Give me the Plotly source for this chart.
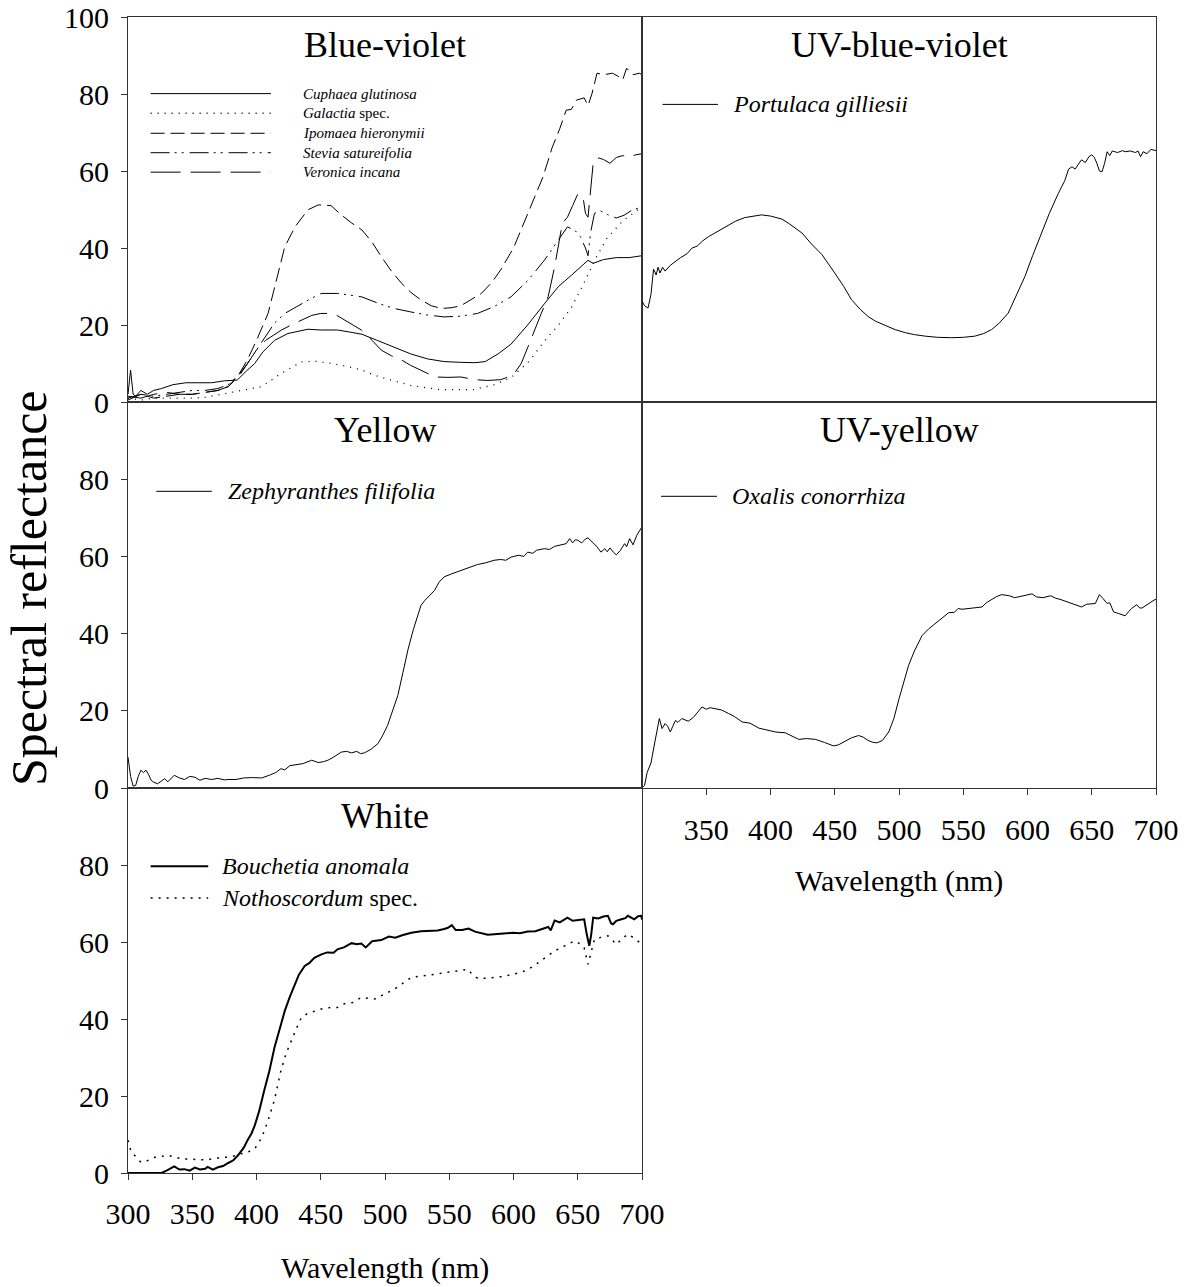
import plotly.graph_objects as go
from plotly.subplots import make_subplots

# ---------------- data ----------------
panel_titles = ["Blue-violet", "UV-blue-violet", "Yellow", "UV-yellow", "White"]

# Blue-violet
cuphaea_wl = [300, 302, 304, 306, 310, 315, 320, 326, 335, 345, 355, 365, 375, 385, 392, 398.6, 405, 414, 424.5, 432, 440, 450, 463, 472, 482, 494, 507, 520, 533, 546, 559, 570, 578, 588, 598, 611, 624, 635, 645, 652, 658, 662, 670, 680, 690, 700]
cuphaea_val = [2, 8.3, 2, 1.5, 3, 2, 3, 3.5, 4.5, 5, 5, 5, 5.5, 5.7, 8, 10, 13, 16, 17.8, 18.3, 18.9, 18.7, 18.7, 18.2, 17.6, 16, 14.2, 12.5, 11.2, 10.5, 10.3, 10.2, 10.5, 12.5, 15, 20, 25.5, 30, 32.9, 35, 36.8, 36, 37, 37.5, 37.5, 38]

galactia_wl = [300, 310, 320, 330, 340, 350, 360, 370, 378, 390, 404, 419, 435, 445, 455, 470, 482, 495, 507, 520, 543, 569, 585, 598, 612, 624, 635, 645, 655, 663, 673, 685, 695, 700]
galactia_val = [1, 0.5, 1, 1, 1, 1, 1.2, 1.8, 2.3, 3, 4, 7.4, 10.4, 10.6, 10.2, 9.3, 8.3, 6.6, 5.4, 4.3, 3.2, 3.2, 4.5, 6.3, 10.5, 15.8, 20, 24.5, 31, 36.7, 42.7, 47, 49.5, 50.6]

ipomaea_wl = [300, 310, 320, 330, 340, 350, 360, 370, 378, 386, 393, 400, 409, 415, 422, 430, 440, 448, 458, 466, 474, 482, 490, 497, 505, 513, 520, 528, 536, 544, 552, 559, 567, 575, 583, 590, 600, 611, 617, 623, 630, 636, 641, 645, 649, 655, 658, 661, 665, 670, 677, 682, 685, 688, 693, 698, 700]
ipomaea_val = [0.5, 2, 1, 1.5, 2, 2, 2.5, 3, 4, 7, 11, 16, 23, 31, 40.3, 45.5, 49.9, 51.2, 51, 48.6, 46.5, 44.7, 41.5, 37.8, 34, 30.8, 28.5, 26.5, 25, 24.3, 24.5, 25, 26.5, 28.2, 31, 34.3, 40, 49, 54, 58.5, 66, 71, 75.8, 76, 78.4, 79, 77, 80, 85.4, 85, 85.4, 84.5, 83.7, 86.7, 85, 85.4, 85]

stevia_wl = [300, 310, 320, 330, 340, 350, 360, 370, 378, 386, 393, 400, 407, 414, 422, 435, 443, 450.5, 463, 472, 482, 495, 507, 520, 533, 546, 559, 572, 585, 598, 611, 624, 633, 642, 648, 652, 656, 658, 660, 663, 668, 673, 680, 686, 692, 700]
stevia_val = [1, 2, 1.5, 2, 2.5, 3, 3, 3.5, 4.5, 7, 10, 13.5, 17, 20.5, 23, 25.6, 27, 28.2, 28.2, 27.8, 27.3, 25.6, 24.3, 23.4, 22.6, 22.1, 22.3, 23, 24.8, 27.3, 31.5, 36.8, 41, 45.5, 44.5, 43, 40, 38, 44, 49, 49.6, 48.7, 47.8, 48.5, 49.8, 50.7]

veronica_wl = [300, 310, 320, 330, 340, 350, 360, 370, 378, 386, 393, 400, 407, 414, 419.5, 427, 435, 443, 450, 457, 462, 468.6, 475, 481.6, 490, 497, 505, 513, 520, 528, 539, 549, 559, 570, 580, 590, 596, 601, 606, 611, 616, 621.6, 627, 632, 638, 642, 646, 650, 654, 656, 658, 660, 662, 665, 670, 675, 680, 685, 690, 695, 700]
veronica_val = [1.5, 1, 2, 2.5, 2, 2, 2.5, 3, 4, 6.5, 10, 13.5, 16, 17.5, 18.7, 20, 21.3, 22.5, 23, 23, 22.6, 21.3, 20, 18.7, 16, 13.5, 12, 10.9, 9.5, 8.3, 6.5, 6.4, 6.5, 5.8, 5.6, 5.8, 6.5, 7.6, 10, 14.1, 18.5, 23, 27.4, 35.1, 46.4, 48, 51, 54, 53.5, 49, 48, 55, 62, 63.5, 63, 62, 63.5, 64, 63.5, 64.2, 64.5]

# UV-blue-violet
portulaca_wl = [300, 302, 304.7, 307, 309, 311, 312.5, 314, 316, 318, 322, 326, 330, 335, 339, 343, 347, 352, 357, 362, 367, 373, 380, 386, 393, 400, 405, 409, 415, 420, 424.5, 432, 440, 450, 457, 463, 470, 476, 481.6, 490, 497, 505, 512, 520.5, 530, 541, 550, 559, 566, 572, 578, 585, 591, 598, 604, 611, 617, 624, 629, 632, 634.6, 637, 640, 642, 645, 648, 650, 652, 654, 656, 658, 660, 662, 664, 666, 670, 674, 676, 680, 684, 686, 688, 690, 693, 696, 699.5, 700]
portulaca_val = [26.2, 25, 24.4, 28, 34.5, 33, 35, 33.5, 35, 34, 35.5, 36.5, 37.5, 38.5, 40, 40.5, 41.8, 43, 44, 45, 46, 47, 47.9, 48.3, 48.6, 48.3, 47.8, 47.5, 46.2, 45, 43.9, 41, 38.3, 33.5, 30, 26.6, 24, 22.2, 21, 19.8, 18.8, 18, 17.5, 17.1, 16.8, 16.7, 16.8, 17.1, 17.8, 18.8, 20.5, 23.1, 27.5, 32.6, 38, 43.9, 49, 54.2, 57.5, 60.5, 61.1, 60.5, 62, 62.9, 62.2, 63.8, 64.2, 63.5, 62, 60, 59.8, 62, 65, 64, 65.2, 64.8, 65.3, 65, 65.2, 64.8, 65.2, 63.7, 65, 64.5, 65.6, 65.5, 65.3]

# Yellow
zephyranthes_wl = [300, 302, 304, 306, 308, 310, 312, 314, 316, 318, 320, 323, 326, 328.5, 331, 336, 340, 344, 348, 352, 356, 360, 365, 370, 375, 378, 384, 390, 397, 404, 410, 415, 419, 422, 426, 430, 436, 443, 448, 452, 455.6, 460, 466, 470, 474, 478, 481, 484, 489, 494.5, 498, 502, 506, 510, 514, 518, 522, 525.7, 528, 531, 535, 538.6, 542, 546, 552, 559, 565, 572, 578, 585, 590, 594, 598, 604, 608, 611, 615, 618, 624, 628, 632, 637, 641, 643.7, 646, 648, 650, 653, 656, 658, 662, 665, 668, 671, 673, 675, 678, 680, 683, 686.5, 688, 690.4, 693, 696, 699.5, 700]
zephyranthes_val = [8, 3, 0.5, 0.7, 3, 4.6, 4, 4.6, 3.5, 2, 1.5, 1.1, 1.8, 2.4, 1.6, 3.3, 2.6, 2.2, 3, 2.8, 2, 2.5, 2.2, 2.5, 2.1, 2.2, 2.2, 2.6, 2.7, 2.6, 3.3, 4, 5, 4.7, 5.8, 6, 6.3, 7.2, 6.6, 6.8, 7.2, 8, 9.3, 9.5, 9.1, 9.5, 8.9, 9.1, 10, 11.5, 13.5, 16.2, 20, 24, 30, 36, 41, 44.7, 47.3, 48.6, 50, 51.2, 53.3, 54.7, 55.5, 56.4, 57.2, 57.9, 58.3, 59, 59.2, 59, 59.8, 60.3, 60, 61.1, 60.8, 61.6, 62, 61.8, 62.6, 62.9, 63.3, 64.6, 63.5, 64.3, 64.2, 63.5, 64.5, 64.8, 63.5, 62.5, 61.1, 62, 61.2, 62.2, 61, 60.4, 61.5, 63.3, 62.5, 64.6, 63, 65.5, 67.4, 67.5]

# UV-yellow
oxalis_wl = [300, 302, 304, 305, 307, 310, 312, 313.5, 315.6, 318, 320, 322, 324, 326, 328, 331, 336, 340, 346.7, 350, 353, 357, 362, 367.4, 372, 378, 384, 391, 397, 404, 411.5, 416, 422, 428, 435, 442, 449, 453, 458, 463, 468.6, 472, 476, 480, 483, 487, 492, 496, 500, 504, 507.5, 512, 518, 523, 528, 533, 538.6, 543, 546, 549, 555, 564.6, 568, 572, 576, 580, 586, 590, 593, 598, 603.5, 607, 612, 618, 621.7, 626, 632, 637, 642, 646, 652.8, 656, 659, 662, 664, 667, 671, 676, 679, 681, 685, 687, 689, 692, 696, 699.5, 700]
oxalis_val = [0, 0.7, 4, 5, 6.5, 11.9, 15, 18, 15.4, 16.7, 16, 14.5, 16, 17.5, 17, 18, 17.3, 18.3, 21, 20.4, 20.8, 20.6, 20.2, 19.3, 18.5, 17.1, 16.8, 15.5, 15, 14.5, 14.3, 13.5, 12.6, 12.8, 12.6, 11.8, 10.9, 11.2, 12.1, 13, 13.6, 13.2, 12.3, 11.8, 11.7, 12.3, 14.5, 18, 23.1, 28, 31.8, 35.5, 39.5, 41.2, 42.6, 44, 45.4, 45.5, 46.5, 46.3, 46.6, 46.9, 48, 48.9, 49.6, 50.1, 49.8, 49.3, 49.5, 49.8, 50.3, 49.5, 49.3, 49.8, 49.2, 48.8, 48.2, 47.5, 46.9, 47.6, 47.8, 50.1, 49, 47.8, 48, 45.6, 45.2, 44.6, 45.8, 46.5, 47.5, 46.7, 46.6, 47.3, 48, 48.9, 48.6]

# White
bouchetia_wl = [300, 310, 320, 326, 330, 333, 336, 340, 344, 348, 352, 356, 360, 362, 366, 370, 374, 378, 382, 385.6, 390, 393, 396, 398.6, 402, 406, 410, 414, 418, 422, 426, 429.7, 433, 437.5, 441, 445, 450.5, 455, 460, 463, 468, 474, 478, 481.6, 485, 490, 497, 503, 508, 514, 520.5, 528, 535, 541, 546, 549, 552, 555, 560, 565, 570, 575, 580, 585, 590, 595, 600, 605, 611, 617, 622, 627, 629, 632, 636, 639, 642, 646, 650, 655, 657, 659, 660.5, 662, 666, 670, 673.5, 676, 677.4, 680, 684, 687, 689, 692, 694, 697, 699.5, 700]
bouchetia_val = [0, 0, 0, 0, 0.6, 1.2, 1.7, 0.9, 1, 0.6, 1.4, 0.9, 1.1, 1.6, 0.9, 1.5, 1.8, 2.6, 3.3, 4.6, 6.5, 8.5, 10.2, 12.3, 16, 21.4, 26.5, 32.6, 37.6, 42.1, 45.8, 48.6, 51.5, 53.8, 54.5, 55.9, 56.8, 57.3, 57.2, 58.1, 58.6, 59.7, 59.4, 59.6, 58.6, 60.2, 60.5, 61.4, 61.1, 61.8, 62.4, 62.8, 62.9, 63, 63.4, 63.7, 64.4, 63.1, 63.1, 63.5, 62.7, 62.3, 61.9, 62, 62.1, 62.3, 62.4, 62.3, 62.7, 62.8, 63.3, 63.9, 63, 65.6, 65.1, 65.6, 66.3, 65.5, 65.6, 65.9, 62, 59, 62, 66.3, 66.1, 66.6, 66.8, 64.8, 64.6, 65.5, 65.9, 66.2, 66.8, 66.2, 65.9, 66.7, 66.8, 65.8]

nothoscordum_wl = [300, 302, 304, 307, 310, 315, 321, 326, 331, 336, 341.5, 347, 352, 357, 362, 367, 372.6, 380, 388, 393, 398.6, 402, 405, 409, 414, 419, 423, 427, 431, 435, 440, 445, 450.5, 458, 463, 468.6, 475, 481.6, 486, 492, 500, 507.5, 514, 520.5, 530, 538.6, 550, 560, 564.6, 568, 572, 580, 590.5, 600, 608.7, 615, 621.7, 627, 632, 640, 647.6, 652, 655, 658, 660, 663, 668, 673.5, 677, 680, 685, 689, 694, 699.5, 700]
nothoscordum_val = [8.5, 6, 5, 4, 2.8, 3.2, 4.1, 4.3, 4.6, 4.2, 3.7, 3.6, 3.5, 3.5, 3.4, 3.8, 4, 4.2, 5, 5.4, 6.3, 8, 10, 13.6, 19, 26.6, 31, 34.4, 37.5, 40.4, 41.5, 42, 42.6, 43, 43, 44, 44.3, 45.6, 45.5, 45.2, 46.5, 47.8, 49.3, 50.8, 51.2, 51.6, 52.2, 52.7, 52.9, 51.5, 50.6, 50.6, 51, 51.6, 52.5, 53.6, 55.1, 56.5, 57.7, 59, 60.3, 59.5, 58.5, 54.2, 57, 60.7, 61.2, 61.6, 60.5, 59.4, 61, 62, 61, 59.4, 59.4]

x_ticks_left = [300, 350, 400, 450, 500, 550, 600, 650, 700]
x_ticks_right = [350, 400, 450, 500, 550, 600, 650, 700]
y_ticks_top = [0, 20, 40, 60, 80, 100]
y_ticks_lower = [0, 20, 40, 60, 80]

# ---------------- figure ----------------
FONT = "Liberation Serif"
W, H = 1191, 1287

fig = make_subplots(rows=3, cols=2,
                    specs=[[{}, {}], [{}, {}], [{}, None]],
                    horizontal_spacing=0, vertical_spacing=0)

def add(wl, val, name, row, col, dash="solid", width=1.0):
    fig.add_trace(go.Scatter(x=wl, y=val, mode="lines", name=name,
                             line=dict(color="black", width=width, dash=dash),
                             showlegend=False, hoverinfo="x+y+name"),
                  row=row, col=col)

DASH = {
    "solid": "solid",
    "dot": "1px,6px",
    "dash": "14px,6px",
    "dashdotdot": "19px,5px,2px,5px,2px,6px",
    "longdash": "30px,10px",
    "dotw": "2px,6px",
}

add(cuphaea_wl, cuphaea_val, "Cuphaea glutinosa", 1, 1, DASH["solid"], 1.0)
add(galactia_wl, galactia_val, "Galactia spec.", 1, 1, DASH["dot"], 1.3)
add(ipomaea_wl, ipomaea_val, "Ipomaea hieronymii", 1, 1, DASH["dash"], 1.0)
add(stevia_wl, stevia_val, "Stevia satureifolia", 1, 1, DASH["dashdotdot"], 1.0)
add(veronica_wl, veronica_val, "Veronica incana", 1, 1, DASH["longdash"], 1.0)
add(portulaca_wl, portulaca_val, "Portulaca gilliesii", 1, 2, DASH["solid"], 1.0)
add(zephyranthes_wl, zephyranthes_val, "Zephyranthes filifolia", 2, 1, DASH["solid"], 1.0)
add(oxalis_wl, oxalis_val, "Oxalis conorrhiza", 2, 2, DASH["solid"], 1.0)
add(bouchetia_wl, bouchetia_val, "Bouchetia anomala", 3, 1, DASH["solid"], 2.0)
add(nothoscordum_wl, nothoscordum_val, "Nothoscordum spec.", 3, 1, DASH["dotw"], 1.5)

def fx(px):
    return px / W

def fy(py):
    return 1 - py / H

xl = [fx(128), fx(642)]
xr = [fx(642), fx(1156)]
r1 = [fy(402), fy(17)]
r2 = [fy(788), fy(402)]
r3 = [fy(1173), fy(788)]

axis_common = dict(showline=True, linecolor="#333333", linewidth=1.2, mirror=True,
                   showgrid=False, zeroline=False, automargin=False,
                   tickfont=dict(family=FONT, size=30, color="black"),
                   ticks="outside", ticklen=6, tickwidth=1.2, tickcolor="#333333")

noticks = dict(tickvals=[], showticklabels=False, ticks="")
xcfg = {
    1: dict(domain=xl, **noticks),
    2: dict(domain=xr, **noticks),
    3: dict(domain=xl, **noticks),
    4: dict(domain=xr, tickvals=x_ticks_right, ticklabelstandoff=9),
    5: dict(domain=xl, tickvals=x_ticks_left, ticklabelstandoff=8),
}
ycfg = {
    1: dict(domain=r1, tickvals=y_ticks_top, ticklabelstandoff=6),
    2: dict(domain=r1, **noticks),
    3: dict(domain=r2, tickvals=y_ticks_lower, ticklabelstandoff=6),
    4: dict(domain=r2, **noticks),
    5: dict(domain=r3, tickvals=y_ticks_lower, ticklabelstandoff=6),
}
for i in range(1, 6):
    xs = "xaxis" if i == 1 else f"xaxis{i}"
    ys = "yaxis" if i == 1 else f"yaxis{i}"
    xd = dict(axis_common); xd.update(xcfg[i]); xd["range"] = [300, 700]
    yd = dict(axis_common); yd.update(ycfg[i]); yd["range"] = [0, 100]
    fig.layout[xs].update(**xd)
    fig.layout[ys].update(**yd)

annotations = []
shapes = []

def axref(i):
    return ("x domain" if i == 1 else f"x{i} domain",
            "y domain" if i == 1 else f"y{i} domain")

for i, t in enumerate(panel_titles, start=1):
    xr_, yr_ = axref(i)
    annotations.append(dict(text=t, xref=xr_, yref=yr_, x=0.5, y=0.927,
                            xanchor="center", yanchor="middle", showarrow=False,
                            font=dict(family=FONT, size=36, color="black")))

legend_items = [
    (1, 0.044, 0.278, 0.337, 0.801, "<i>Cuphaea glutinosa</i>", DASH["solid"], 1.0, 15),
    (1, 0.044, 0.278, 0.337, 0.750, "<i>Galactia</i> spec.", DASH["dot"], 1.3, 15),
    (1, 0.044, 0.278, 0.337, 0.698, "<i>Ipomaea hieronymii</i>", DASH["dash"], 1.0, 15),
    (1, 0.044, 0.278, 0.337, 0.6475, "<i>Stevia satureifolia</i>", DASH["dashdotdot"], 1.0, 15),
    (1, 0.044, 0.278, 0.337, 0.597, "<i>Veronica incana</i>", DASH["longdash"], 1.0, 15),
    (2, 0.040, 0.148, 0.174, 0.773, "<i>Portulaca gilliesii</i>", DASH["solid"], 1.0, 24),
    (3, 0.055, 0.163, 0.190, 0.7686, "<i>Zephyranthes filifolia</i>", DASH["solid"], 1.0, 24),
    (4, 0.037, 0.146, 0.172, 0.7557, "<i>Oxalis conorrhiza</i>", DASH["solid"], 1.0, 24),
    (5, 0.044, 0.156, 0.179, 0.7966, "<i>Bouchetia anomala</i>", DASH["solid"], 2.0, 24),
    (5, 0.044, 0.156, 0.179, 0.7143, "<i>Nothoscordum</i> spec.", DASH["dotw"], 1.5, 24),
]
for (p, x0, x1, tx, y, lab, dash, wdt, fs) in legend_items:
    xr_, yr_ = axref(p)
    shapes.append(dict(type="line", xref=xr_, yref=yr_, x0=x0, x1=x1, y0=y, y1=y,
                       line=dict(color="black", width=wdt, dash=dash)))
    annotations.append(dict(text=lab, xref=xr_, yref=yr_, x=tx, y=y,
                            xanchor="left", yanchor="middle", showarrow=False,
                            font=dict(family=FONT, size=fs, color="black")))

annotations.append(dict(text="Wavelength (nm)", xref="paper", yref="paper",
                        x=fx(385), y=fy(1268), xanchor="center", yanchor="middle",
                        showarrow=False, font=dict(family=FONT, size=30, color="black")))
annotations.append(dict(text="Wavelength (nm)", xref="paper", yref="paper",
                        x=fx(899), y=fy(881), xanchor="center", yanchor="middle",
                        showarrow=False, font=dict(family=FONT, size=30, color="black")))
annotations.append(dict(text="Spectral reflectance", xref="paper", yref="paper",
                        x=fx(29), y=fy(588), xanchor="center", yanchor="middle",
                        textangle=-90, showarrow=False,
                        font=dict(family=FONT, size=50, color="black")))

fig.update_layout(template="none", width=W, height=H,
                  margin=dict(l=0, r=0, t=0, b=0, pad=0, autoexpand=False),
                  paper_bgcolor="white", plot_bgcolor="white",
                  showlegend=False, annotations=annotations, shapes=shapes,
                  font=dict(family=FONT, color="black"))

fig.write_html("out.html")
